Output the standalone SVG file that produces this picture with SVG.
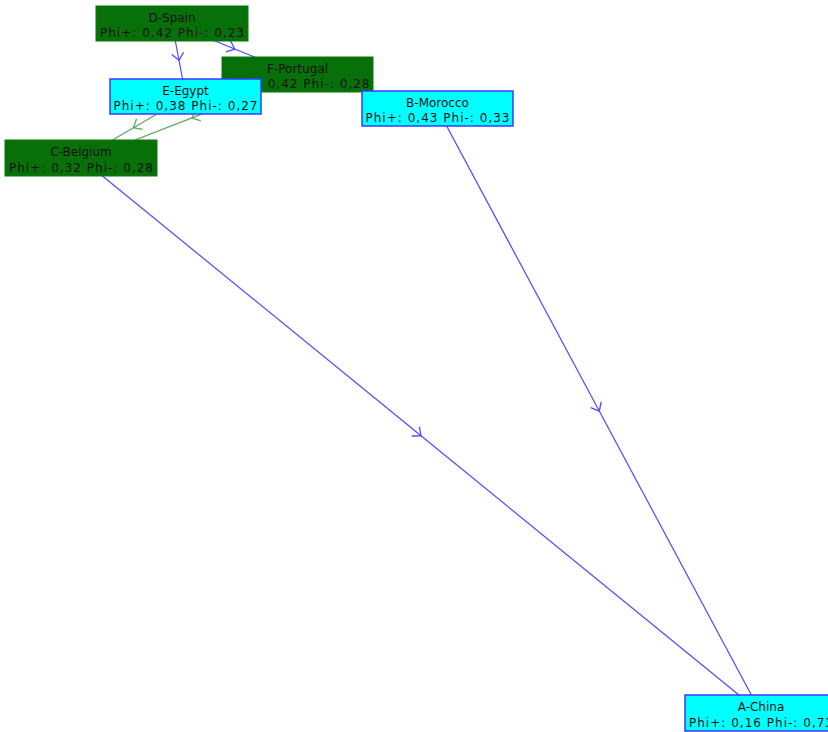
<svg xmlns="http://www.w3.org/2000/svg" width="828" height="732" viewBox="0 0 828 732">
<style>
.e{fill:none;stroke-width:1.2;marker-mid:url(#mb)}
.b{stroke:#4a4aff}
.g{stroke:#5aaa5a;marker-mid:url(#mg)}
.ng{fill:#087008;stroke:#0a7a0a;stroke-width:1}
.nc{fill:#00ffff;stroke:#3a3aff;stroke-width:1.5}
text{font-family:"DejaVu Sans","Liberation Sans",sans-serif;font-size:12px;fill:#111;text-anchor:middle}
</style>
<defs>
<marker id="mb" markerUnits="userSpaceOnUse" markerWidth="20" markerHeight="20" viewBox="-10 -10 20 20" refX="0" refY="0" orient="auto"><path d="M-7,-6 L0,0 L-7,6" fill="none" stroke="#4a4aff" stroke-width="1.3"/></marker>
<marker id="mg" markerUnits="userSpaceOnUse" markerWidth="20" markerHeight="20" viewBox="-10 -10 20 20" refX="0" refY="0" orient="auto"><path d="M-7,-6 L0,0 L-7,6" fill="none" stroke="#5aaa5a" stroke-width="1.3"/></marker>
</defs>
<g id="connectors">
<path class="e b" d="M172,23.5 L179,60.25 L186,97"/>
<path class="e b" d="M172,23.5 L234.75,49 L297.5,74.5"/>
<path class="e g" d="M186,97 L133.5,127.75 L81,158.5"/>
<path class="e g" d="M297.5,77 L192,117.9 L81,161"/>
<path class="e b" d="M81,158.5 L421,435.75 L761,713"/>
<path class="e b" d="M437.5,109 L599.25,411 L761,713"/>
</g>
<g id="F-Portugal"><rect class="ng" x="222" y="57" width="151" height="35"/><text x="297.5" y="72.5">F-Portugal</text><text x="297.5" y="88" textLength="144" lengthAdjust="spacing">Phi+: 0,42  Phi-: 0,28</text></g>
<g id="D-Spain"><rect class="ng" x="96" y="6" width="152" height="35"/><text x="172" y="21.5">D-Spain</text><text x="172" y="37" textLength="144" lengthAdjust="spacing">Phi+: 0,42  Phi-: 0,23</text></g>
<g id="E-Egypt"><rect class="nc" x="110" y="79" width="151" height="35"/><text x="185.5" y="94.5">E-Egypt</text><text x="185.5" y="110" textLength="144" lengthAdjust="spacing">Phi+: 0,38  Phi-: 0,27</text></g>
<g id="B-Morocco"><rect class="nc" x="362" y="91" width="151" height="35"/><text x="437.5" y="106.5">B-Morocco</text><text x="437.5" y="122" textLength="144" lengthAdjust="spacing">Phi+: 0,43  Phi-: 0,33</text></g>
<g id="C-Belgium"><rect class="ng" x="5" y="140" width="152" height="36"/><text x="81" y="156">C-Belgium</text><text x="81" y="171.5" textLength="144" lengthAdjust="spacing">Phi+: 0,32  Phi-: 0,28</text></g>
<g id="A-China"><rect class="nc" x="685" y="695" width="152" height="36"/><text x="761" y="711">A-China</text><text x="761" y="726.5" textLength="144" lengthAdjust="spacing">Phi+: 0,16  Phi-: 0,73</text></g>
</svg>
